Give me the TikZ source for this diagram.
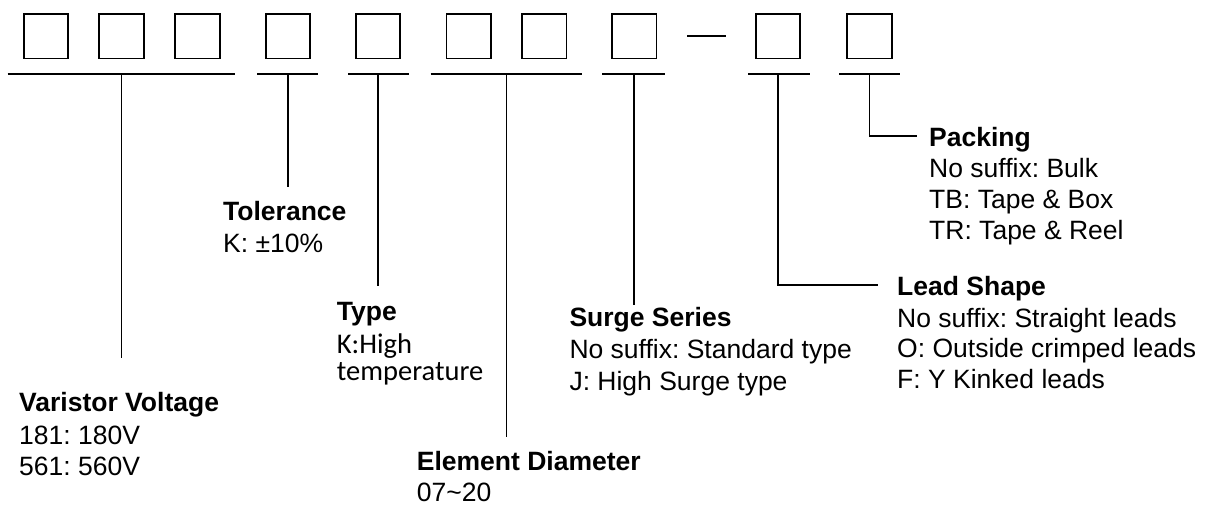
\documentclass[tikz,border=0pt]{standalone}
\usepackage{fontspec}
\setmainfont{Liberation Sans}
\newfontfamily\calfont{Carlito}
\frenchspacing
\begin{document}
\begin{tikzpicture}[x=1pt,y=-1pt,
  cell/.style={draw,line width=1.8pt,minimum size=44.5pt,inner sep=0pt},
  wire/.style={line width=1.8pt},
  lbl/.style={anchor=base west,inner sep=0pt,font=\fontsize{26.5}{31}\selectfont\frenchspacing},
  hd/.style={lbl,font=\fontsize{26.5}{31}\selectfont\bfseries\frenchspacing},
  cal/.style={anchor=base west,inner sep=0pt,font=\fontsize{28.5}{33}\selectfont\calfont}]
\useasboundingbox (0,0) rectangle (1205,505);
% code boxes
\node[cell] (b1) at (45.85,36.2) {};
\node[cell] (b2) at (121.5,36.2) {};
\node[cell] (b3) at (197.5,36.2) {};
\node[cell] (b4) at (288,36.2) {};
\node[cell] (b5) at (378,36.2) {};
\node[cell] (b6) at (468.7,36.2) {};
\node[cell] (b7) at (544.3,36.2) {};
\node[cell] (b8) at (634.3,36.2) {};
\node[cell] (b9) at (778,36.2) {};
\node[cell] (b10) at (869.5,36.2) {};
% dash
\draw[wire] ([xshift=30pt]b8.east) -- ([xshift=-29pt]b9.west);
% underlines
\coordinate (u1l) at (7.7,73.7);  \coordinate (u1r) at (235,73.7);  \coordinate (u1) at (121.5,73.7);
\coordinate (u2l) at (257,73.7);  \coordinate (u2r) at (318,73.7);  \coordinate (u2) at (288,73.7);
\coordinate (u3l) at (348,73.7);  \coordinate (u3r) at (409,73.7);  \coordinate (u3) at (378,73.7);
\coordinate (u4l) at (430.7,73.7);\coordinate (u4r) at (582.3,73.7);\coordinate (u4) at (506.5,73.7);
\coordinate (u5l) at (602,73.7);  \coordinate (u5r) at (665,73.7);  \coordinate (u5) at (634.3,73.7);
\coordinate (u6l) at (748,73.7);  \coordinate (u6r) at (810,73.7);  \coordinate (u6) at (778,73.7);
\coordinate (u7l) at (839,73.7);  \coordinate (u7r) at (900,73.7);  \coordinate (u7) at (869.5,73.7);
\foreach \i in {1,...,7} {\draw[wire] (u\i l) -- (u\i r);}
% leader ends
\coordinate (e1) at (121.5,358);
\coordinate (e2) at (288,187);
\coordinate (e3) at (378,286);
\coordinate (e4) at (506.5,436.7);
\coordinate (e5) at (634.3,305);
\coordinate (e6) at (878,285);
\coordinate (e7) at (917,136);
\draw[wire] (u1) -- (e1);
\draw[wire] (u2) -- (e2);
\draw[wire] (u3) -- (e3);
\draw[wire] (u4) -- (e4);
\draw[wire] (u5) -- (e5);
\draw[wire] (u6) |- (e6);
\draw[wire] (u7) |- (e7);
% labels
\node[hd] (tolh) at (223,221) {Tolerance};
\node[lbl] (tol1) at (223,252.7) {K: ±10\%};
\node[hd] (typh) at (336.7,320) {Type};
\node[cal] (typ1) at (336.7,353.3) {K:High};
\node[cal] (typ2) at (336.7,380) {temperature};
\node[hd] (surh) at (569.3,326.7) {Surge Series};
\node[lbl] (sur1) at (569.3,358.3) {No suffix: Standard type};
\node[lbl] (sur2) at (569.3,390) {J: High Surge type};
\node[hd] (eleh) at (416.7,470) {Element Diameter};
\node[lbl] (ele1) at (416.7,501.7) {07\textasciitilde20};
\node[hd] (vavh) at (19,411.7) {Varistor Voltage};
\node[lbl] (vav1) at (19,444.3) {181: 180V};
\node[lbl] (vav2) at (19,475) {561: 560V};
\node[hd] (leah) at (897,295) {Lead Shape};
\node[lbl] (lea1) at (897,327) {No suffix: Straight leads};
\node[lbl] (lea2) at (897,357) {O: Outside crimped leads};
\node[lbl] (lea3) at (897,388) {F: Y Kinked leads};
\node[hd] (pakh) at (929,147) {Packing};
\node[lbl] (pak1) at (929,178) {No suffix: Bulk};
\node[lbl] (pak2) at (929,209) {TB: Tape \& Box};
\node[lbl] (pak3) at (929,240) {TR: Tape \& Reel};
\end{tikzpicture}
\end{document}
